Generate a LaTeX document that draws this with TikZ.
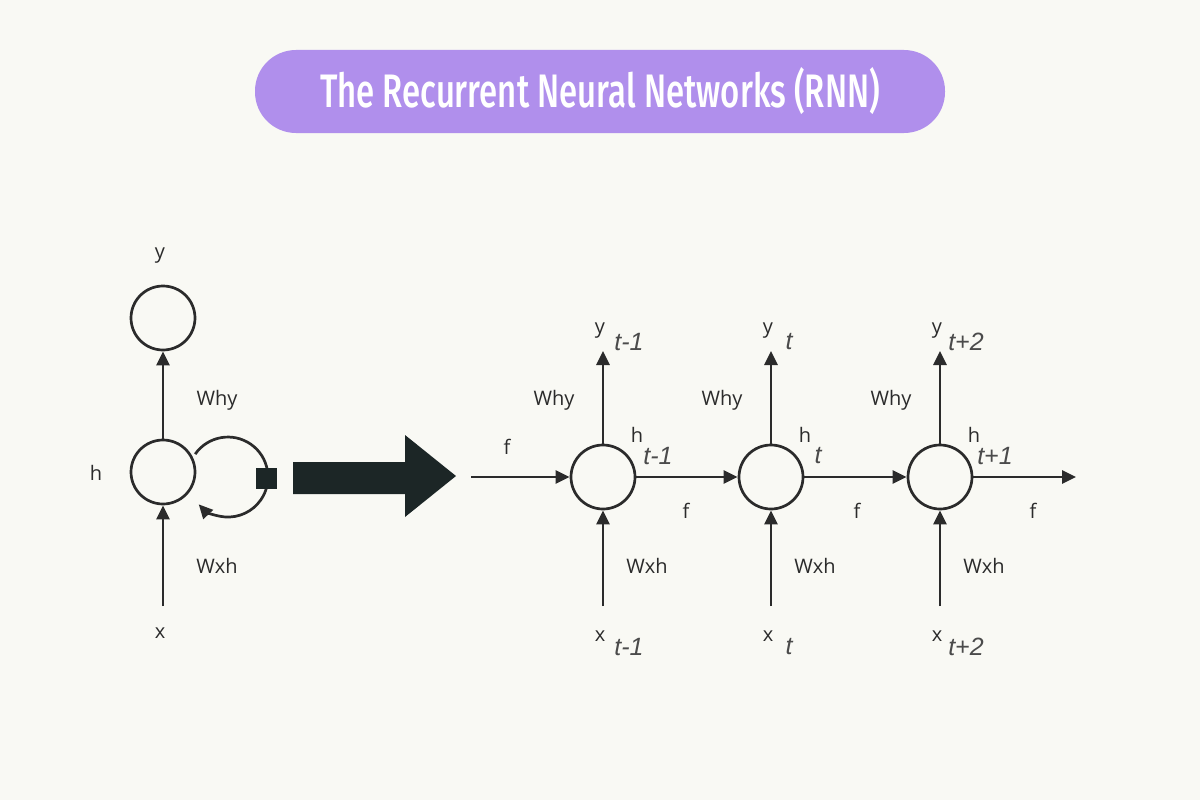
\documentclass[tikz,border=0pt]{standalone}
\usepackage{fontspec}
\setmainfont{Open Sans}
\newfontfamily\titlefont[FakeStretch=0.70]{Fira Sans Medium}
\newfontfamily\subfont{Liberation Sans}
\usetikzlibrary{arrows.meta,calc}
\definecolor{bg}{HTML}{F9F9F4}
\definecolor{pill}{HTML}{B08FEC}
\definecolor{ink}{HTML}{2B2B2B}
\definecolor{bigarrow}{HTML}{1C2626}
\tikzset{
  cell/.style={circle,draw=ink,line width=2.7pt,minimum size=64pt,inner sep=0pt,fill=bg},
  conn/.style={draw=ink,line width=2.7pt,-{Triangle[length=14pt,width=13pt]}},
  lbl/.style={font=\fontsize{20}{22}\selectfont,text=ink,inner sep=0pt},
  sub/.style={font=\fontsize{25}{27}\selectfont\subfont\itshape,text=ink!85,inner sep=0pt},
}
\begin{document}
\begin{tikzpicture}[x=1pt,y=-1pt]
\fill[bg] (0,0) rectangle (1200,800);
\useasboundingbox (0,0) rectangle (1200,800);
% title
\node[fill=pill,rounded corners=41pt,minimum width=690pt,minimum height=83pt,inner sep=0pt] (title) at (600,91.5) {};
\node[text=white,font=\fontsize{47}{50}\selectfont\titlefont,inner sep=0pt] (ttext) at (600,91) {The Recurrent Neural Networks (RNN)};
% left folded RNN
\node[cell] (ly) at (163,318) {};
\node[cell] (lh) at (163,472) {};
\coordinate (lx) at (163,606);
\draw[conn] (lh) -- (ly);
\draw[conn] (lx) -- (lh);
\node[lbl] (lyl) at (160,256) {y};
\node[lbl] (lhl) at (96,473) {h};
\node[lbl] (lxl) at (160,633) {x};
\node[lbl] (lwhy) at (217,400) {Why};
\node[lbl] (lwxh) at (217,566) {Wxh};
\coordinate (loopc) at (228,477);
\coordinate (loops) at ($(loopc)+(-32.8,-22.9)$);
\draw[conn] (loops) arc[start angle=215,end angle=497,radius=40];
\node[fill=bigarrow,minimum size=21pt,inner sep=0pt] (sq) at (266.5,478) {};
% big arrow
\fill[bigarrow] (293,462) -- (405,462) -- (405,435) -- (456,476) -- (405,517) -- (405,494) -- (293,494) -- cycle;
% unrolled
\foreach \i/\cx/\ys/\hs/\xs/\dx in {1/603/t-1/t-1/t-1/0, 2/771/t/t/t/-8, 3/940/t+2/t+1/t+2/0}{
  \node[cell] (c\i) at (\cx,477) {};
  \coordinate (yt\i) at (\cx,351);
  \coordinate (xb\i) at (\cx,606);
  \draw[conn] (c\i) -- (yt\i);
  \draw[conn] (xb\i) -- (c\i);
  \node[lbl] (yl\i) at (\cx-3,331) {y};
  \node[sub] (ys\i) at (\cx+26+\dx,342) {\ys};
  \node[lbl] (xl\i) at (\cx-3,636) {x};
  \node[sub] (xs\i) at (\cx+26+\dx,647) {\xs};
  \node[lbl] (why\i) at (\cx-49,400) {Why};
  \node[lbl] (wxh\i) at (\cx+44,566) {Wxh};
  \node[lbl] (hl\i) at (\cx+34,435) {h};
  \node[sub] (hs\i) at (\cx+55+\dx,456) {\hs};
}
\coordinate (in) at (471,477);
\coordinate (out) at (1076,477);
\draw[conn] (in) -- (c1);
\draw[conn] (c1) -- (c2);
\draw[conn] (c2) -- (c3);
\draw[conn] (c3) -- (out);
\node[lbl] (f0) at (507,447) {f};
\node[lbl] (f1) at (686,511) {f};
\node[lbl] (f2) at (857,511) {f};
\node[lbl] (f3) at (1033,511) {f};
\end{tikzpicture}
\end{document}
